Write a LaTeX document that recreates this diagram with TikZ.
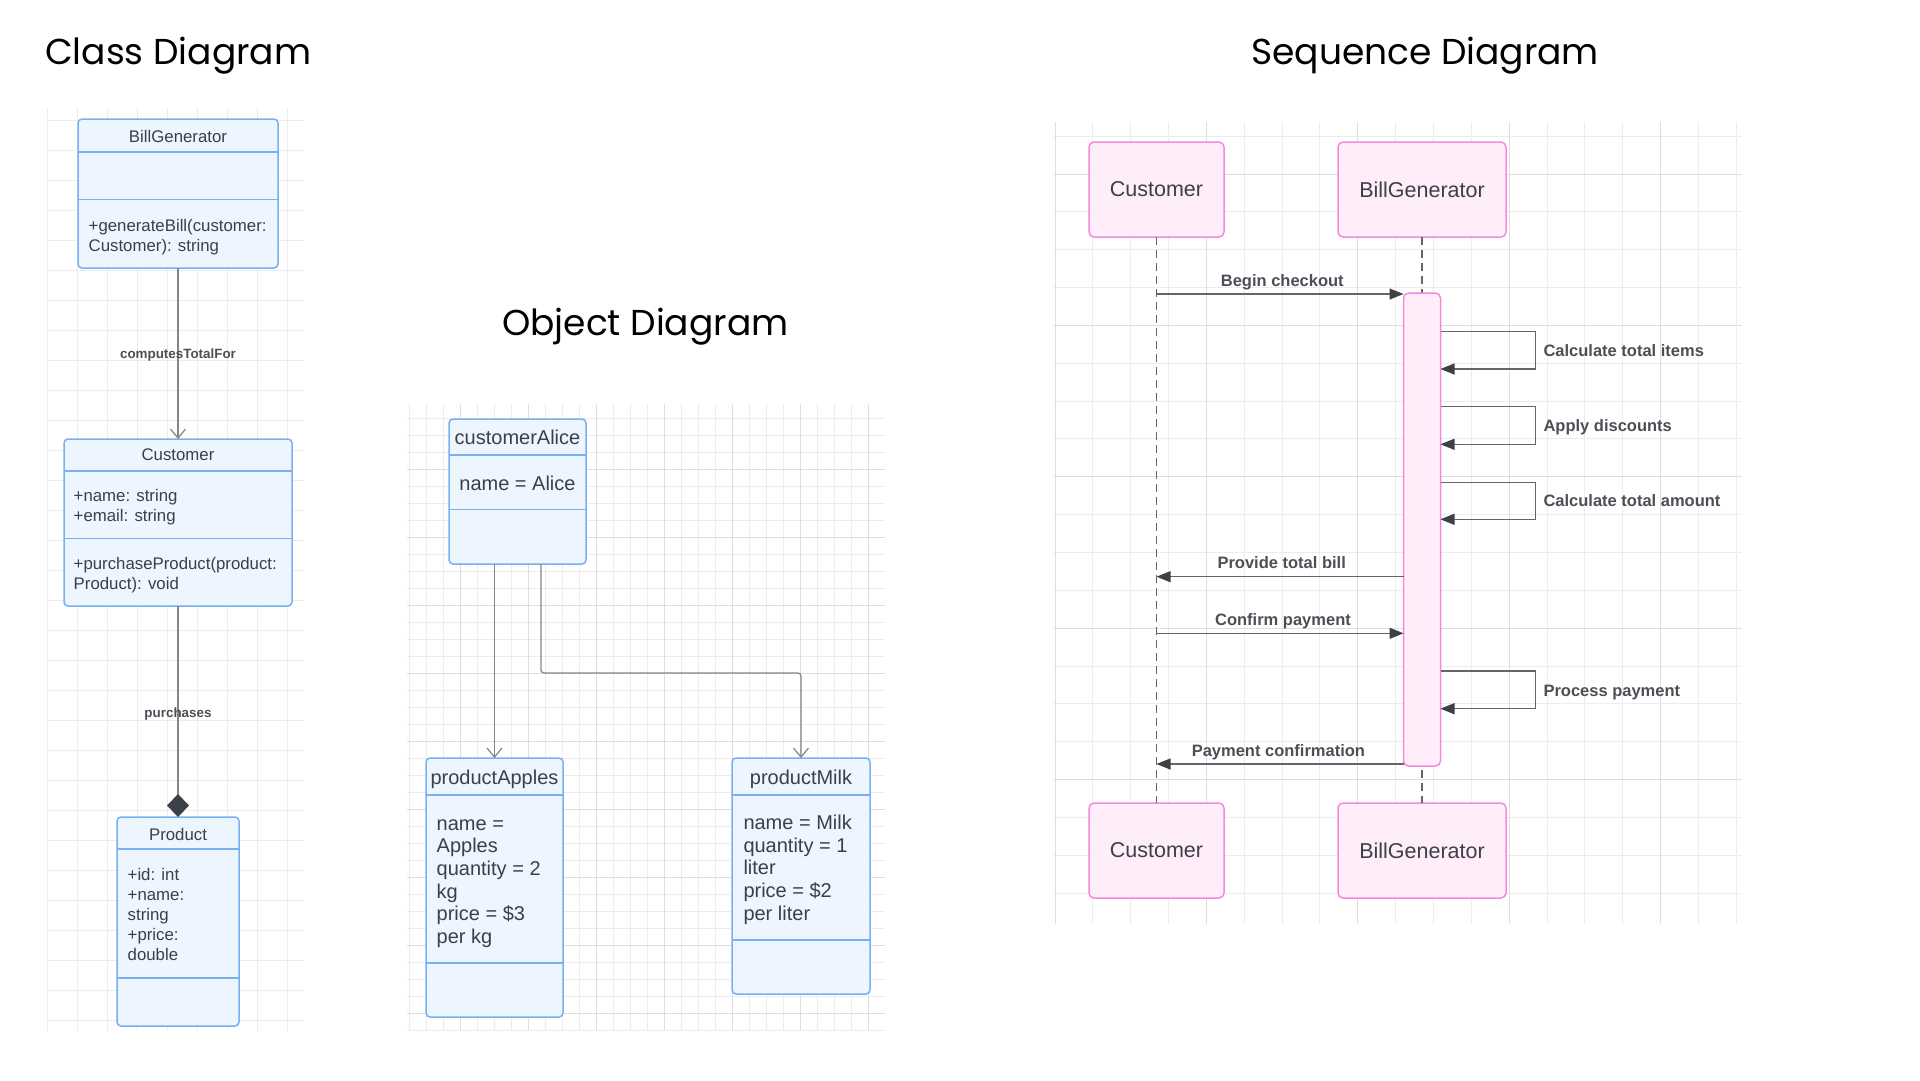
\documentclass[tikz,border=0pt]{standalone}
\usepackage{fontspec}
\setmainfont{Liberation Sans}
\newfontfamily\titlefont{Poppins}
\usetikzlibrary{arrows.meta}
\definecolor{clsfill}{HTML}{EDF5FF}
\definecolor{clsborder}{HTML}{78B0F0}
\definecolor{txt}{HTML}{3C4046}
\definecolor{lab}{HTML}{4B4F56}
\definecolor{seqfill}{HTML}{FFEEFA}
\definecolor{seqborder}{HTML}{F28BDD}
\definecolor{gridminor}{HTML}{ECECEC}
\definecolor{gridmajor}{HTML}{DEDEDE}
\definecolor{conn}{HTML}{858585}
\definecolor{msgline}{HTML}{62666C}
\definecolor{tipc}{HTML}{3C4047}
\tikzset{
  gmin/.style={draw=gridminor, line width=1pt},
  gmaj/.style={draw=gridmajor, line width=1pt},
  clsbox/.style={draw=clsborder, fill=clsfill, line width=1.5pt, rounded corners=4pt, inner sep=0pt, outer sep=0pt},
  clsdiv/.style={draw=clsborder, line width=1.5pt},
  clsname/.style={font=\fontsize{16.8}{19.5}\selectfont, text=txt, inner sep=0pt, anchor=base},
  clstxt/.style={font=\fontsize{16.8}{19.5}\selectfont, text=txt, inner sep=0pt, anchor=base west, align=left},
  clslab/.style={font=\fontsize{13.4}{16}\selectfont\bfseries, text=lab, inner sep=0pt, anchor=base},
  objname/.style={font=\fontsize{20}{22.7}\selectfont, text=txt, inner sep=0pt, anchor=base},
  objtxt/.style={font=\fontsize{20}{22.7}\selectfont, text=txt, inner sep=0pt, anchor=base west, align=left},
  assoc/.style={draw=conn, line width=1.2pt, -{Straight Barb[length=9pt,width=15pt,line width=1.2pt]}},
  comp/.style={draw=conn, line width=1.2pt, -{Diamond[length=23pt,width=22pt,color=tipc,fill=tipc]}},
  msg/.style={draw=msgline, line width=1.2pt, -{Triangle[length=14pt,width=11pt,color=tipc,fill=tipc]}},
  selfmsg/.style={draw=msgline, line width=1.2pt, -{Triangle[length=14pt,width=11pt,color=tipc,fill=tipc]}},
  lifeline/.style={draw=msgline, line width=1.1pt, dash pattern=on 8pt off 5pt},
  seqbox/.style={draw=seqborder, fill=seqfill, line width=1.5pt, rounded corners=5pt, inner sep=0pt, outer sep=0pt, font=\fontsize{21.5}{24}\selectfont, text=txt},
  seqlab/.style={font=\fontsize{16.5}{19}\selectfont\bfseries, text=lab, inner sep=0pt, anchor=base},
  seqlabw/.style={font=\fontsize{16.5}{19}\selectfont\bfseries, text=lab, inner sep=0pt, anchor=base west},
  titletext/.style={font=\titlefont\fontsize{36}{43}\selectfont, text=black, inner sep=0pt, anchor=base west}
}
\begin{document}
\begin{tikzpicture}[x=1pt,y=-1pt]
\useasboundingbox (0,0) rectangle (1920,1080);
\fill[white] (0,0) rectangle (1920,1080);

% ---------- titles
\node[titletext] (t1) at (45,64) {Class Diagram};
\node[titletext] (t2) at (502,335) {Object Diagram};
\node[titletext] (t3) at (1251,64) {Sequence Diagram};

% ---------- grids
\foreach \k in {0,...,8} \draw[gmin] ({47+30*\k},108) -- ({47+30*\k},1031);
\foreach \k in {0,...,30} \draw[gmin] (48,{120+30*\k}) -- (304,{120+30*\k});

\foreach \k in {0,...,27} \draw[gmin] ({409+17*\k},404) -- ({409+17*\k},1031);
\foreach \k in {0,...,36} \draw[gmin] (407,{418.3+17*\k}) -- (885,{418.3+17*\k});
\foreach \k in {0,...,6} \draw[gmaj] ({460+68*\k},404) -- ({460+68*\k},1031);
\foreach \k in {0,...,8} \draw[gmaj] (407,{469.3+68*\k}) -- (885,{469.3+68*\k});

\foreach \k in {0,...,18} \draw[gmin] ({1055+37.85*\k},122) -- ({1055+37.85*\k},924);
\foreach \k in {0,...,20} \draw[gmin] (1053,{136.15+37.85*\k}) -- (1742,{136.15+37.85*\k});
\foreach \k in {0,...,4} \draw[gmaj] ({1055+151.4*\k},122) -- ({1055+151.4*\k},924);
\foreach \k in {0,...,4} \draw[gmaj] (1053,{174+151.4*\k}) -- (1742,{174+151.4*\k});

% ---------- class diagram (multi-line texts are placed at the baseline of their last line)
\node[clsbox, minimum width=200pt, minimum height=149pt] (bg) at (178,193.5) {};
\draw[clsdiv] (bg.west |- 0,152) -- (bg.east |- 0,152);
\draw[clsdiv] (bg.west |- 0,199.5) -- (bg.east |- 0,199.5);
\node[clsname] (bgname) at (178,142) {BillGenerator};
\node[clstxt] (bgops) at (88.5,251) {+generateBill(customer:\\Customer): string};

\node[clsbox, minimum width=228pt, minimum height=167pt] (cu) at (178,522.5) {};
\draw[clsdiv] (cu.west |- 0,471) -- (cu.east |- 0,471);
\draw[clsdiv] (cu.west |- 0,538.5) -- (cu.east |- 0,538.5);
\node[clsname] (cuname) at (178,460) {Customer};
\node[clstxt] (cuattr) at (73.5,521) {+name: string\\+email: string};
\node[clstxt] (cuops) at (73.5,589) {+purchaseProduct(product:\\Product): void};

\node[clsbox, minimum width=122pt, minimum height=209pt] (pr) at (178,921.5) {};
\draw[clsdiv] (pr.west |- 0,849) -- (pr.east |- 0,849);
\draw[clsdiv] (pr.west |- 0,978) -- (pr.east |- 0,978);
\node[clsname] (prname) at (178,840) {Product};
\node[clstxt, font=\fontsize{16.8}{20}\selectfont] (prattr) at (127.5,960) {+id: int\\+name:\\string\\+price:\\double};

\draw[assoc] (bg.south) -- (cu.north);
\node[clslab] (lab1) at (178,358.5) {computesTotalFor};
\draw[comp] (cu.south) -- (pr.north);
\node[clslab] (lab2) at (178,717) {purchases};

% ---------- object diagram
\node[clsbox, minimum width=137pt, minimum height=145pt] (al) at (517.5,491.5) {};
\draw[clsdiv] (al.west |- 0,455) -- (al.east |- 0,455);
\draw[clsdiv] (al.west |- 0,509.5) -- (al.east |- 0,509.5);
\node[objname] (alname) at (517.5,444) {customerAlice};
\node[objname] (alattr) at (517.5,490) {name = Alice};

\node[clsbox, minimum width=137pt, minimum height=259pt] (ap) at (494.5,887.5) {};
\draw[clsdiv] (ap.west |- 0,795) -- (ap.east |- 0,795);
\draw[clsdiv] (ap.west |- 0,963) -- (ap.east |- 0,963);
\node[objname] (apname) at (494.5,784) {productApples};
\node[objtxt] (apattr) at (436.5,943.5) {name =\\Apples\\quantity = 2\\kg\\price = \$3\\per kg};

\node[clsbox, minimum width=138pt, minimum height=236pt] (mk) at (801,876) {};
\draw[clsdiv] (mk.west |- 0,795) -- (mk.east |- 0,795);
\draw[clsdiv] (mk.west |- 0,940) -- (mk.east |- 0,940);
\node[objname] (mkname) at (801,784) {productMilk};
\node[objtxt] (mkattr) at (743.3,920.1) {name = Milk\\quantity = 1\\liter\\price = \$2\\per liter};

\draw[assoc] (ap.north |- al.south) -- (ap.north);
\draw[assoc, rounded corners=3pt] ([xshift=23.5pt]al.south) -- ++(0,109) -| (mk.north);

% ---------- sequence diagram
\node[seqbox, minimum width=135pt, minimum height=95pt] (ch) at (1156.5,189.5) {Customer};
\node[seqbox, minimum width=168pt, minimum height=95pt] (bh) at (1422,189.5) {BillGenerator};
\node[seqbox, minimum width=135pt, minimum height=95pt] (cf) at (1156.5,850.5) {Customer};
\node[seqbox, minimum width=168pt, minimum height=95pt] (bf) at (1422,850.5) {BillGenerator};
\draw[lifeline] (ch.south) -- (cf.north);
\draw[lifeline] (bh.south) -- (bf.north);
\node[seqbox, minimum width=37pt, minimum height=473pt] (bar) at (1422,529.5) {};

\draw[msg] (ch.south |- 0,294) -- (bar.west |- 0,294);
\node[seqlab] (m1) at (1282.3,286.7) {Begin checkout};

\draw[selfmsg] (bar.east |- 0,331.7) -- (1535.3,331.7) -- (1535.3,369) -- (bar.east |- 0,369);
\node[seqlabw] (s1) at (1543.3,356) {Calculate total items};
\draw[selfmsg] (bar.east |- 0,406.7) -- (1535.3,406.7) -- (1535.3,444.3) -- (bar.east |- 0,444.3);
\node[seqlabw] (s2) at (1543.3,431.4) {Apply discounts};
\draw[selfmsg] (bar.east |- 0,482.3) -- (1535.3,482.3) -- (1535.3,519.3) -- (bar.east |- 0,519.3);
\node[seqlabw] (s3) at (1543.3,506) {Calculate total amount};

\draw[msg] (bar.west |- 0,576.7) -- (ch.south |- 0,576.7);
\node[seqlab] (m2) at (1281.7,568.7) {Provide total bill};
\draw[msg] (ch.south |- 0,633.3) -- (bar.west |- 0,633.3);
\node[seqlab] (m3) at (1283,625.4) {Confirm payment};

\draw[selfmsg] (bar.east |- 0,671) -- (1535.3,671) -- (1535.3,708.7) -- (bar.east |- 0,708.7);
\node[seqlabw] (s4) at (1543.3,696) {Process payment};

\draw[msg] (bar.west |- 0,764) -- (ch.south |- 0,764);
\node[seqlab] (m4) at (1278.4,756) {Payment confirmation};
\end{tikzpicture}
\end{document}
